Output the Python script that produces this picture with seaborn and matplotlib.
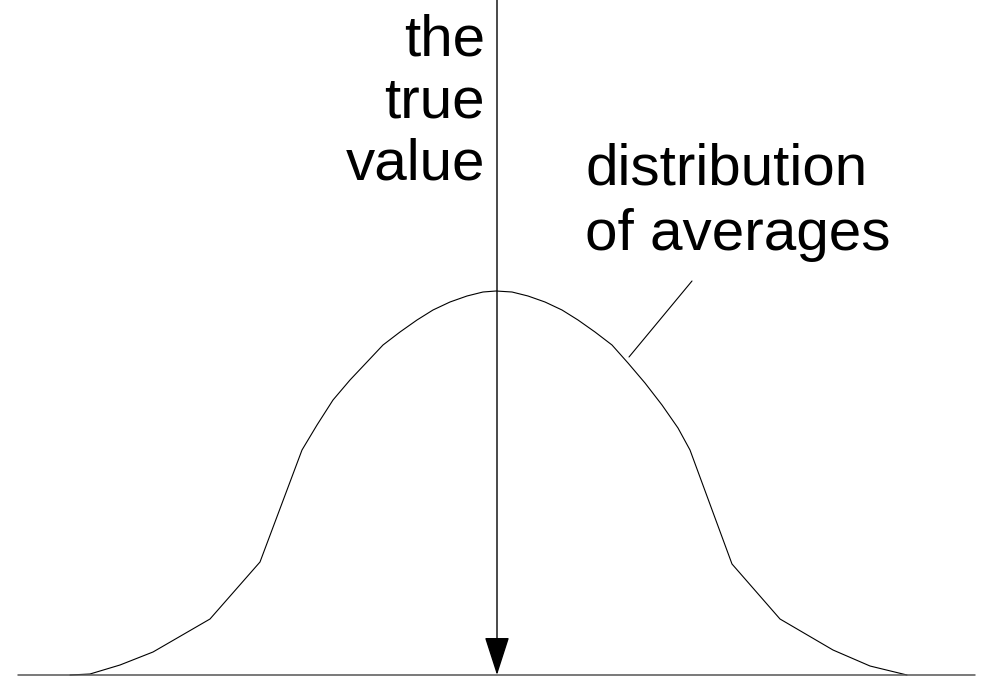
import numpy as np
import pandas as pd
import seaborn as sns
import matplotlib
matplotlib.use("Agg")
import matplotlib.pyplot as plt

# polyline vertices of the bell curve
curve_x = [-4.26, -4.06, -3.76, -3.43, -2.86, -2.36,
           -1.94, -1.79, -1.63, -1.46, -1.29, -1.13, -0.96, -0.79, -0.63,
           -0.46, -0.29, -0.13, 0.00, 0.16, 0.32, 0.49, 0.66, 0.82,
           0.99, 1.16, 1.32, 1.49, 1.66, 1.82, 1.94,
           2.36, 2.84, 3.37, 3.74, 4.11]
curve_y = [0.00, 0.01, 0.10, 0.23, 0.56, 1.13,
           2.25, 2.50, 2.75, 2.95, 3.13, 3.30, 3.43, 3.55, 3.65,
           3.73, 3.79, 3.83, 3.84, 3.83, 3.79, 3.73, 3.65, 3.55,
           3.43, 3.30, 3.12, 2.92, 2.70, 2.47, 2.25,
           1.11, 0.56, 0.25, 0.09, 0.00]

baseline_x = [-4.78, 4.79]
true_value = 0.01
true_label = ["the", "true", "value"]
dist_label = ["distribution", "of averages"]
pointer_from = (1.33, 3.18)
pointer_to = (1.96, 3.94)

sns.set_style("white")
plt.rcParams['font.family'] = ['Liberation Sans', 'DejaVu Sans']

df = pd.DataFrame({"x": curve_x, "y": curve_y})

fig = plt.figure(figsize=(9.88, 6.78), dpi=100)
ax = fig.add_axes([0, 0, 1, 1])

sns.lineplot(data=df, x="x", y="y", ax=ax, color="black", linewidth=0.8, sort=False)

# ground line
ax.plot(baseline_x, [0, 0], color="#555555", linewidth=1.1)

# arrow for the true value
ax.annotate("", xy=(true_value, 0), xytext=(true_value, 6.78),
            arrowprops=dict(arrowstyle="-|>,head_length=2.45,head_width=0.79",
                            color="black", lw=1.0, shrinkA=0, shrinkB=0))

# pointer line to the curve
ax.plot([pointer_from[0], pointer_to[0]], [pointer_from[1], pointer_to[1]],
        color="black", linewidth=0.8)

for i, s in enumerate(true_label):
    ax.text(-0.11, 6.20 - 0.625 * i, s, ha="right", va="baseline",
            fontsize=42, color="black")

for i, s in enumerate(dist_label):
    ax.text(0.89, 4.90 - 0.65 * i, s, ha="left", va="baseline",
            fontsize=42, color="black")

ax.set_xlim(-4.96, 4.92)
ax.set_ylim(-0.03, 6.75)
ax.set_axis_off()

fig.savefig("out.png", dpi=100)
